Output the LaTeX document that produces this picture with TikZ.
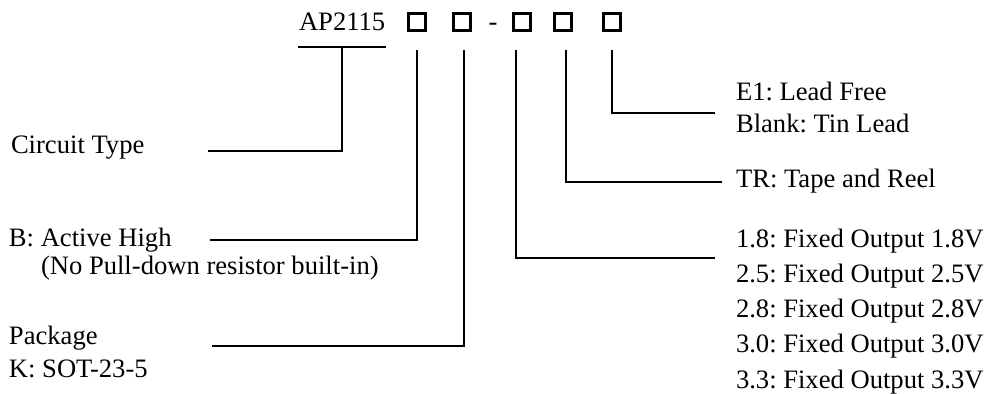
\documentclass[tikz,border=0pt]{standalone}
\usepackage{fontspec}
\setmainfont{Liberation Serif}
\usetikzlibrary{calc}
\frenchspacing

\begin{document}
\begin{tikzpicture}[x=0.5pt, y=-0.5pt, line width=1pt,
	box/.style = {draw, line width=1.5pt, minimum size=8.5pt, inner sep=0pt},
	lbl/.style = {anchor=base west, inner sep=0pt, font=\fontsize{13.3}{16}\selectfont}]
	\useasboundingbox (0,0) rectangle (988,394);

	% part number
	\node[lbl] (ap) at (298,31) {AP2115};
	\node[box] (b1) at (417,22.5) {};
	\node[box] (b2) at (462,22.5) {};
	\node[lbl, anchor=base] (dash) at (493,31) {-};
	\node[box] (b3) at (522,22.5) {};
	\node[box] (b4) at (563,22.5) {};
	\node[box] (b5) at (612,22.5) {};

	% left side
	\node[lbl] (ctype) at (10,154) {Circuit Type};
	\node[lbl] (act) at (8,247) {B:~Active High};
	\node[lbl] (actnote) at (40,275) {(No Pull-down resistor built-in)};
	\node[lbl] (pkg) at (8,344) {Package};
	\node[lbl] (pkgk) at (8,378) {K: SOT-23-5};

	% right side
	\node[lbl] (lf) at (735,101) {E1: Lead Free};
	\node[lbl] (tl) at (735,133) {Blank: Tin Lead};
	\node[lbl] (tr) at (735,188) {TR: Tape and Reel};
	\foreach \vo [count=\i] in {1.8,2.5,2.8,3.0,3.3}
		\node[lbl] (out\i) at (735,{213+35*\i}) {\vo: Fixed Output \vo V};

	% lead lines
	\coordinate (top) at (0,50);
	\coordinate (ctype-e) at (208,151);
	\coordinate (act-e) at (210,240);
	\coordinate (pkg-e) at (212,346);
	\coordinate (lf-e) at (715,113);
	\coordinate (tr-e) at (722,182);
	\coordinate (out-e) at (715,258);

	\draw ([yshift=-8pt]ap.base west) -- ([yshift=-8pt]ap.base east);
	\draw ([yshift=-8pt]ap.base) |- (ctype-e);
	\draw (b1 |- top) |- (act-e);
	\draw ($(b2 |- top)+(2,0)$) |- (pkg-e);
	\draw ($(b3 |- top)+(-6,0)$) |- (out-e);
	\draw ($(b4 |- top)+(3,0)$) |- (tr-e);
	\draw (b5 |- top) |- (lf-e);
\end{tikzpicture}
\end{document}
